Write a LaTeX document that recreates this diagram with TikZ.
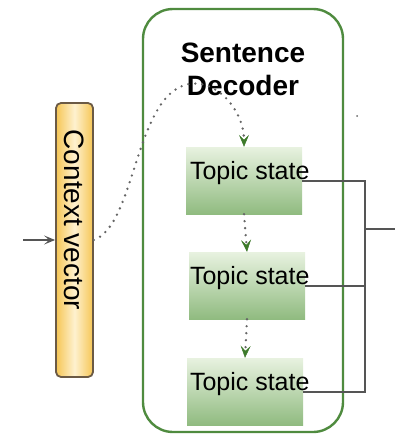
\documentclass[tikz,border=0pt]{standalone}
\usepackage{fontspec}
\setmainfont{Liberation Sans}
\usetikzlibrary{arrows.meta}
\definecolor{decgreen}{HTML}{4F8B3F}
\definecolor{toptop}{HTML}{E8F2E0}
\definecolor{topbot}{HTML}{90BB80}
\definecolor{cvedge}{HTML}{F6C655}
\definecolor{cvmid}{HTML}{FEF1CF}
\definecolor{cvborder}{HTML}{6B5A45}
\definecolor{arrgreen}{HTML}{3D7A2A}
\definecolor{conngray}{HTML}{555555}
\definecolor{dotgray}{HTML}{666666}
\tikzset{
  decbox/.style={draw=decgreen, line width=2.4pt, rounded corners=30pt, minimum width=200pt, minimum height=423pt, inner sep=0pt},
  title/.style={font=\bfseries\fontsize{28}{33}\selectfont, align=center, inner sep=0pt, anchor=north},
  cvbox/.style={draw=cvborder, line width=1.8pt, rounded corners=5pt, minimum width=37pt, minimum height=274pt, inner sep=0pt,
    left color=cvedge, right color=cvedge, middle color=cvmid, font=\fontsize{28}{30}\selectfont},
  topic/.style={minimum width=116pt, inner sep=0pt, text height=32pt, text depth=35pt,
    top color=toptop, bottom color=topbot, font=\fontsize{25}{28}\selectfont},
  conn/.style={draw=conngray, line width=2pt},
  dotline/.style={draw=dotgray, line width=2.6pt, line cap=round, dash pattern=on 0pt off 7pt},
  gtip/.style={-{Stealth[length=12pt,width=10pt,inset=5pt,color=arrgreen,fill=arrgreen,line width=0.5pt]}},
}
\begin{document}
\begin{tikzpicture}[x=1pt,y=-1pt]
\useasboundingbox (0,0) rectangle (395,436);
\node[decbox] (dec) at (243,220.5) {};
\node[title] (ttl) at (243,43) {Sentence\\Decoder};
\node[cvbox] (cv) at (74.5,240) {\rotatebox{-90}{Context vector\hspace{40pt}}};
\node[topic] (t1) at (244,180.5) {\makebox[108pt][l]{Topic state}};
\node[topic] (t2) at (247,285.5) {\makebox[114pt][l]{Topic state}};
\node[topic] (t3) at (245,391.5) {\makebox[110pt][l]{Topic state}};
\coordinate (in) at (23,240);
\coordinate (j) at (365,229);
\coordinate (out) at (395,229);
\coordinate (peak) at (185,85);
\draw[draw=conngray, line width=2pt, -{Stealth[length=11pt,width=9pt,inset=5pt]}] (in) -- (cv.west);
\draw[dotline, gtip] (cv.east) .. controls (135,225) and (135,100) .. (peak) .. controls (215,76) and (244,110) .. (t1.north);
\draw[dotline, gtip] (t1.south) -- (t2.north);
\draw[dotline, gtip] (t2.south) -- (t3.north);
\draw[conn] (t1.east) -| (j);
\draw[conn] (t2.east) -| (j);
\draw[conn] (t3.east) -| (j);
\draw[conn] (j) -- (out);
\fill[dotgray] (357,116) circle (1pt);
\end{tikzpicture}
\end{document}
